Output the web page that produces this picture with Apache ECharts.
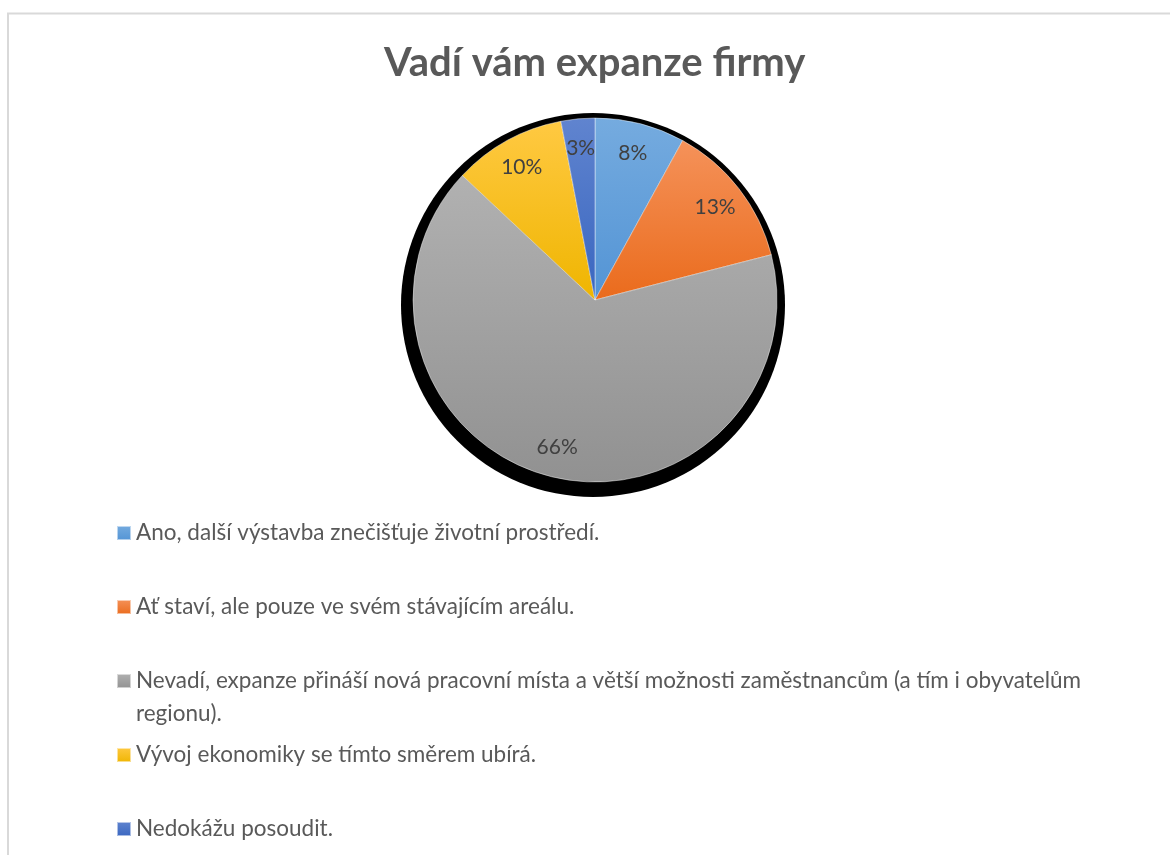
<!DOCTYPE html>
<html>
<head>
<meta charset="utf-8">
<script src="https://cdn.jsdelivr.net/npm/echarts@6/dist/echarts.min.js"></script>
<style>
  html, body { margin: 0; padding: 0; background: #fff; }
  #chart { width: 1170px; height: 855px; }
</style>
</head>
<body>
<div id="chart"></div>
<script>
// Survey answers, in the order drawn clockwise from 12 o'clock
const categories = [
  'Ano, další výstavba znečišťuje životní prostředí.',
  'Ať staví, ale pouze ve svém stávajícím areálu.',
  'Nevadí, expanze přináší nová pracovní místa a větší možnosti zaměstnancům (a tím i obyvatelům\nregionu).',
  'Vývoj ekonomiky se tímto směrem ubírá.',
  'Nedokážu posoudit.'
];
const shares = [8, 13, 66, 10, 3];
const titleText = 'Vadí vám expanze firmy';

// top / bottom colour of each slice's vertical gradient
const sliceColors = [
  ['#75abdf', '#5394d5'],
  ['#f5925a', '#ea6b1c'],
  ['#b1b1b1', '#919191'],
  ['#ffc942', '#efb500'],
  ['#6084cf', '#3966c0']
];

const grad = (c) => new echarts.graphic.LinearGradient(0, 0, 0, 1, [
  { offset: 0, color: c[0] },
  { offset: 1, color: c[1] }
]);

const pieData = categories.map((name, i) => ({
  name: name,
  value: shares[i],
  itemStyle: { color: grad(sliceColors[i]) }
}));

const CX = 595, CY = 300, R = 182;
const LINE = 33;
const legendFont = { fontFamily: 'Lato', fontSize: 22.5, color: '#595959', lineHeight: LINE };

// one legend block per answer so each entry sits in its own row slot;
// a wrapped answer gets a leading blank line so its first line stays level with the swatch
const legends = categories.map((name, i) => {
  const c = 533 + i * 74;
  const wrapped = name.indexOf('\n') >= 0;
  return {
    orient: 'vertical',
    left: 116,
    top: wrapped ? c - 1.5 * LINE : c - 0.5 * LINE,
    padding: 0,
    itemWidth: 14,
    itemHeight: 14,
    itemGap: 0,
    icon: 'rect',
    selectedMode: false,
    formatter: (n) => (wrapped ? '\n' + n : n),
    data: [name],
    textStyle: legendFont
  };
});

// centre the title over the pie
const titleFont = 'bold 40px Lato';
const measure = document.createElement('canvas').getContext('2d');
measure.font = titleFont;
const titleWidth = measure.measureText(titleText).width;

const chart = echarts.init(document.getElementById('chart'), null, { renderer: 'canvas' });
chart.setOption({
  backgroundColor: '#ffffff',
  animation: false,
  title: {
    text: titleText,
    left: Math.round(CX - titleWidth / 2),
    top: 43,
    padding: 0,
    textStyle: { fontFamily: 'Lato', fontWeight: 'bold', fontSize: 40, color: '#595959' }
  },
  graphic: [{
    type: 'rect',
    silent: true,
    shape: { x: 8, y: 13.5, width: 1300, height: 1000 },
    style: { fill: 'none', stroke: '#d9d9d9', lineWidth: 2 }
  }],
  legend: legends,
  series: [
    {
      // dark backdrop behind the pie
      type: 'pie',
      name: 'backdrop',
      silent: true,
      center: [CX - 2, CY + 5],
      radius: R + 10,
      label: { show: false },
      labelLine: { show: false },
      emphasis: { disabled: true },
      itemStyle: { color: '#000' },
      data: [{ name: '', value: 1 }],
      z: 1
    },
    {
      type: 'pie',
      name: 'answers',
      center: [CX, CY],
      radius: R,
      startAngle: 90,
      clockwise: true,
      label: { show: false },
      labelLine: { show: false },
      emphasis: { disabled: true },
      itemStyle: { borderColor: 'rgba(255,255,255,0.55)', borderWidth: 0.8 },
      data: pieData,
      z: 2
    },
    {
      // transparent ring carrying the percentage labels near the rim
      type: 'pie',
      name: 'labels',
      silent: true,
      center: [CX, CY],
      radius: [116, R],
      startAngle: 90,
      clockwise: true,
      itemStyle: { color: 'rgba(0,0,0,0)' },
      emphasis: { disabled: true },
      label: {
        show: true,
        position: 'inside',
        formatter: '{c}%',
        fontFamily: 'Lato',
        fontSize: 21,
        color: '#404040'
      },
      labelLine: { show: false },
      data: categories.map((name, i) => ({ name: name, value: shares[i] })),
      z: 3
    }
  ]
});
</script>
</body>
</html>
